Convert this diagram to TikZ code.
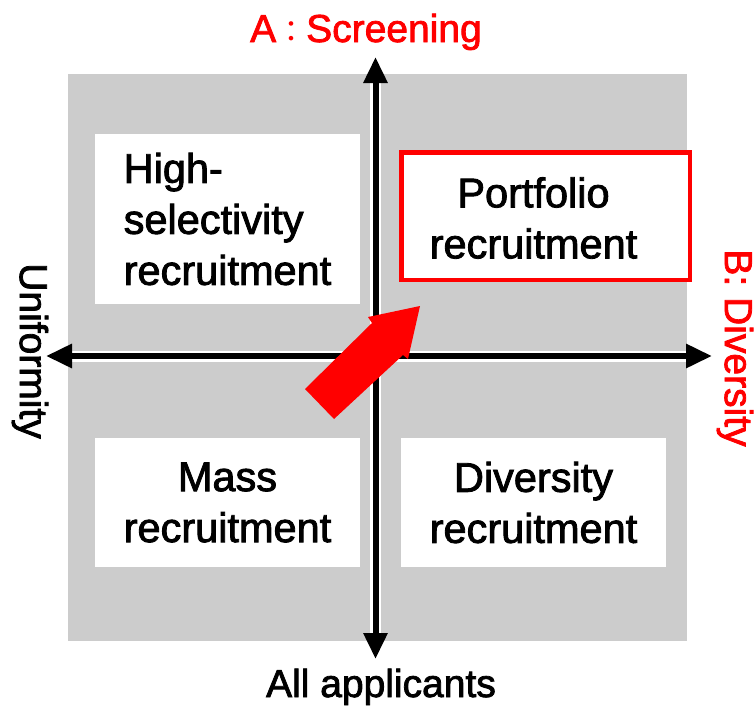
\documentclass[tikz,border=0pt]{standalone}
\usepackage{fontspec}
\setmainfont{Liberation Sans}[FakeBold=2.0]
\newfontfamily\cjkfont{Noto Sans CJK JP}
\usetikzlibrary{arrows.meta}
\definecolor{panelgray}{RGB}{204,204,204}
\definecolor{accent}{RGB}{255,0,0}

\begin{document}
\begin{tikzpicture}[x=1pt,y=-1pt,
  quad/.style={fill=white, inner sep=0pt, align=center, font=\fontsize{41.5}{51}\selectfont},
  quadtext/.style={inner sep=0pt, align=center, font=\fontsize{41.5}{51}\selectfont},
  axisback/.style={white, line width=11pt, shorten <=26pt, shorten >=26pt},
  axisline/.style={black, line width=6pt,
    {Triangle[width=23pt,length=26pt]}-{Triangle[width=23pt,length=26pt]}},
  axislabel/.style={font=\fontsize{39}{47}\selectfont, inner sep=0pt},
]
\useasboundingbox (0,0) rectangle (755,705);

% shaded field behind the four quadrants
\fill[panelgray] (68,74) rectangle (687,641);

% axis end points
\coordinate (top) at (375.5,57);
\coordinate (bottom) at (375.5,659);
\coordinate (left) at (46,356);
\coordinate (right) at (712,356);

% axes: white halo, then black double-headed arrows
\draw[axisback] (top) -- (bottom);
\draw[axisback] (left) -- (right);
\draw[axisline] (top) -- (bottom);
\draw[axisline] (left) -- (right);

% quadrant boxes
\node[quad, minimum width=265pt, minimum height=170pt, align=left] (high) at (227.5,219)
  {High-\\selectivity\\recruitment};
\node[fill=white, draw=accent, line width=4.5pt, inner sep=0pt,
  minimum width=288.5pt, minimum height=127.5pt] (port) at (545.5,216) {};
\node[quadtext] (porttext) at (533.5,218) {Portfolio\\recruitment};
\node[quad, minimum width=265pt, minimum height=129pt] (mass) at (227.5,502.5)
  {Mass\\recruitment};
\node[quad, minimum width=265pt, minimum height=129pt] (divr) at (533.5,502.5)
  {Diversity\\recruitment};

% block arrow pointing into the portfolio quadrant
\fill[accent] (305,389) -- (372,323) -- (368,317) -- (420,306) -- (408,359)
  -- (403,355) -- (334,419) -- cycle;

% axis labels
\node[axislabel, text=accent, anchor=base] (screen) at (366,42)
  {A{\cjkfont\fontsize{30}{30}\selectfont ：}Screening};
\node[axislabel, anchor=base] (all) at (381,697) {All applicants};
\node[axislabel, rotate=-90] (unif) at (30,351) {Uniformity};
\node[axislabel, text=accent, rotate=-90] (div) at (735,348) {B: Diversity};
\end{tikzpicture}
\end{document}
